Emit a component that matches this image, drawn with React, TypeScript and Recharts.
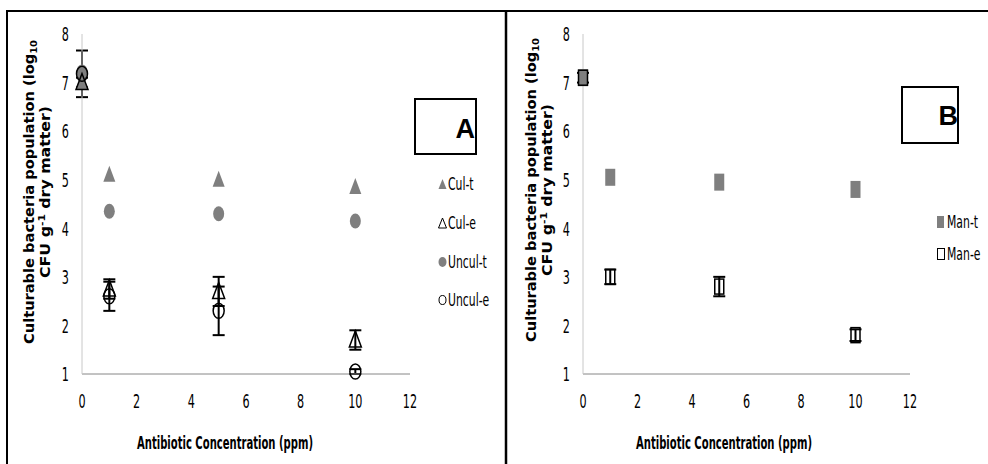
import React from "react";
import { ScatterChart, Scatter, XAxis, YAxis, ErrorBar } from "recharts";

// concentrations (ppm)
const conc = [0, 1, 5, 10];

// panel A values (log10 CFU g-1 dry matter)
const culT = [7.0, 5.1, 5.0, 4.85];
const unculT = [7.22, 4.35, 4.3, 4.15];
const culE = [7.0, 2.75, 2.7, 1.7];
const culEErr = [0.1, 0.2, 0.3, 0.2];
const unculE = [7.18, 2.6, 2.3, 1.05];
const unculEErr = [0.48, 0.3, 0.5, 0.05];

// panel B values
const manT = [7.1, 5.05, 4.95, 4.8];
const manE = [7.1, 3.0, 2.8, 1.8];
const manEErr = [0.1, 0.15, 0.2, 0.12];

const xTicks = [0, 2, 4, 6, 8, 10, 12];
const yTicks = [1, 2, 3, 4, 5, 6, 7, 8];

const GRAY = "#7f7f7f";
const FONT = "'DejaVu Sans', sans-serif";

const toRows = (vals: number[], errs?: number[]) =>
  conc.map((x, i) => ({ x, y: vals[i], err: errs ? errs[i] : 0 }));

const TriFilled = ({ cx, cy }: any) => (
  <polygon points={`${cx},${cy - 9} ${cx - 6},${cy + 7} ${cx + 6},${cy + 7}`} fill={GRAY} />
);
const TriOpen = ({ cx, cy }: any) => (
  <polygon
    points={`${cx},${cy - 9} ${cx - 6},${cy + 7} ${cx + 6},${cy + 7}`}
    fill="none"
    stroke="#000"
    strokeWidth={1.5}
  />
);
const CircFilled = ({ cx, cy }: any) => <ellipse cx={cx} cy={cy} rx={5.5} ry={7.5} fill={GRAY} />;
const CircOpen = ({ cx, cy }: any) => (
  <ellipse cx={cx} cy={cy} rx={5.5} ry={7.5} fill="none" stroke="#000" strokeWidth={1.5} />
);
const RectFilled = ({ cx, cy }: any) => <rect x={cx - 5} y={cy - 8.5} width={10} height={17} fill={GRAY} />;
const RectOpen = ({ cx, cy }: any) => (
  <rect x={cx - 4.5} y={cy - 7.5} width={9} height={15} fill="none" stroke="#000" strokeWidth={1.5} />
);

// narrow, tall tick text like the stretched original
const XTick = ({ x, y, payload }: any) => (
  <text transform={`translate(${x},${y}) scale(0.66,1.18)`} textAnchor="middle" dy="0.71em" fontFamily={FONT} fontSize={17} fill="#000">
    {payload.value}
  </text>
);
const YTick = ({ x, y, payload }: any) => (
  <text transform={`translate(${x},${y}) scale(0.66,1.18)`} textAnchor="end" dy="0.36em" fontFamily={FONT} fontSize={17} fill="#000">
    {payload.value}
  </text>
);

function axes() {
  return [
    <XAxis
      key="x"
      type="number"
      dataKey="x"
      domain={[0, 12]}
      ticks={xTicks}
      tickLine={false}
      tickSize={6}
      tickMargin={14}
      height={30}
      stroke="#868686"
      tick={<XTick />}
    />,
    <YAxis
      key="y"
      type="number"
      dataKey="y"
      domain={[1, 8]}
      ticks={yTicks}
      tickLine={false}
      tickSize={6}
      tickMargin={7}
      width={40}
      stroke="#c8c8c8"
      tick={<YTick />}
    />,
  ];
}

const errBar = (
  <ErrorBar dataKey="err" direction="y" width={6} stroke="#000" strokeWidth={2} isAnimationActive={false} />
);

function LegendItem({ icon, label, x, y }: { icon: React.ReactNode; label: string; x: number; y: number }) {
  return (
    <g transform={`translate(${x},${y})`}>
      <g transform="translate(0,-6)">{icon}</g>
      <text transform="translate(10,0) scale(0.7,1.15)" dy="0.36em" fontFamily={FONT} fontSize={15.5} fill="#000">
        {label}
      </text>
    </g>
  );
}

function YTitle({ cx, cy }: { cx: number; cy: number }) {
  return (
    <g transform={`translate(${cx},${cy}) rotate(-90)`} fontFamily={FONT} fontWeight="bold" fontSize={14} textAnchor="middle">
      <text x={0} y={0} textLength={304} lengthAdjust="spacingAndGlyphs">
        Culturable bacteria population (log<tspan fontSize={9.5} dy={3}>10</tspan>
      </text>
      <text x={0} y={16} textLength={172} lengthAdjust="spacingAndGlyphs">
        CFU g<tspan fontSize={9.5} dy={-5}>-1</tspan><tspan dy={5}> dry matter)</tspan>
      </text>
    </g>
  );
}

function XTitle({ cx }: { cx: number }) {
  return (
    <text x={cx} y={449} textAnchor="middle" fontFamily={FONT} fontWeight="bold" fontSize={17} textLength={176} lengthAdjust="spacingAndGlyphs">
      Antibiotic Concentration (ppm)
    </text>
  );
}

export default function App() {
  return (
    <div style={{ position: "absolute", left: 0, top: 0, width: 988, height: 464, background: "#fff", overflow: "hidden" }}>
      <div style={{ position: "absolute", left: 0, top: 0 }}>
        <ScatterChart width={506} height={464} margin={{ top: 34, right: 96, left: 42, bottom: 60 }}>
          {axes()}
          <Scatter data={toRows(culT)} shape={TriFilled} isAnimationActive={false} />
          <Scatter data={toRows(unculT)} shape={CircFilled} isAnimationActive={false} />
          <Scatter data={toRows(culE, culEErr)} shape={TriOpen} isAnimationActive={false}>
            {errBar}
          </Scatter>
          <Scatter data={toRows(unculE, unculEErr)} shape={CircOpen} isAnimationActive={false}>
            {errBar}
          </Scatter>
        </ScatterChart>
      </div>
      <div style={{ position: "absolute", left: 506, top: 0 }}>
        <ScatterChart width={482} height={464} margin={{ top: 34, right: 78, left: 37, bottom: 60 }}>
          {axes()}
          <Scatter data={toRows(manT)} shape={RectFilled} isAnimationActive={false} />
          <Scatter data={toRows(manE, manEErr)} shape={RectOpen} isAnimationActive={false}>
            {errBar}
          </Scatter>
        </ScatterChart>
      </div>

      <svg width={988} height={464} style={{ position: "absolute", left: 0, top: 0, pointerEvents: "none" }}>
        <line x1={7} y1={11} x2={988} y2={11} stroke="#000" strokeWidth={2} />
        <line x1={7} y1={10} x2={7} y2={464} stroke="#000" strokeWidth={2} />
        <line x1={506} y1={10} x2={506} y2={464} stroke="#000" strokeWidth={2.5} />
        <YTitle cx={34} cy={192} />
        <YTitle cx={536} cy={190} />
        <XTitle cx={225} />
        <XTitle cx={724} />
        <rect x={415} y={99} width={61} height={55} fill="#fff" stroke="#000" strokeWidth={2} />
        <text x={475} y={138} textAnchor="end" fontFamily="'Liberation Sans', Arial, sans-serif" fontWeight="bold" fontSize={27}>
          A
        </text>
        <rect x={902} y={87} width={56} height={56} fill="#fff" stroke="#000" strokeWidth={2} />
        <text x={958} y={125} textAnchor="end" fontFamily="'Liberation Sans', Arial, sans-serif" fontWeight="bold" fontSize={27}>
          B
        </text>

        <LegendItem x={438} y={184} label="Cul-t" icon={<polygon points="4.5,1 0.5,11 8.5,11" fill={GRAY} />} />
        <LegendItem x={438} y={223} label="Cul-e" icon={<polygon points="4.5,1 0.5,11 8.5,11" fill="none" stroke="#000" strokeWidth={1} />} />
        <LegendItem x={438} y={262} label="Uncul-t" icon={<ellipse cx={4.5} cy={6} rx={4} ry={5} fill={GRAY} />} />
        <LegendItem x={438} y={300} label="Uncul-e" icon={<ellipse cx={4.5} cy={6} rx={3.5} ry={4.5} fill="none" stroke="#000" strokeWidth={1} />} />
        <LegendItem x={937} y={222} label="Man-t" icon={<rect x={0} y={0} width={7} height={12} fill={GRAY} />} />
        <LegendItem x={937} y={254} label="Man-e" icon={<rect x={0.5} y={0.5} width={7} height={11} fill="none" stroke="#000" strokeWidth={1} />} />
      </svg>
    </div>
  );
}
